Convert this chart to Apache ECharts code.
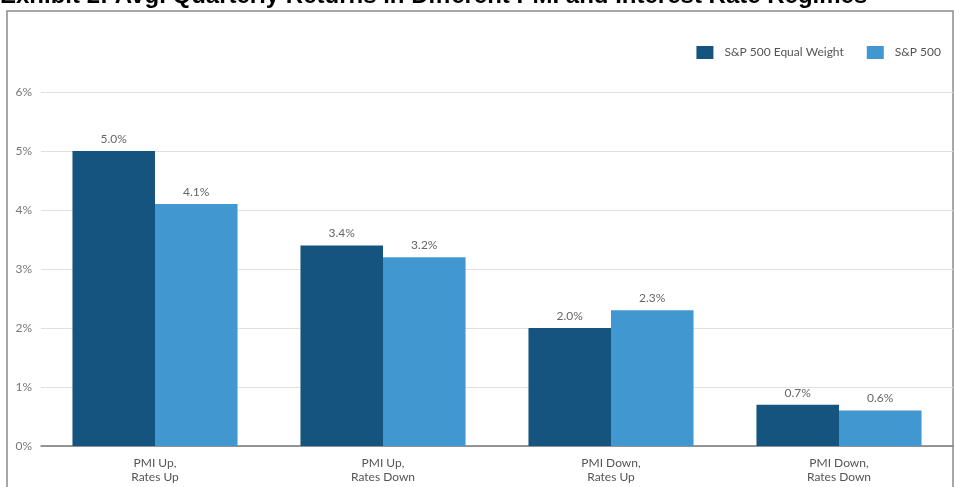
<!DOCTYPE html>
<html>
<head>
<meta charset="utf-8">
<script src="https://cdn.jsdelivr.net/npm/echarts@6/dist/echarts.min.js"></script>
<style>
html,body{margin:0;padding:0;background:#fff;}
#chart{width:954px;height:487px;}
</style>
</head>
<body>
<div id="chart"></div>
<script>
const titleText = 'Exhibit 2: Avg. Quarterly Returns in Different PMI and Interest Rate Regimes';
const categories = ['PMI Up,\nRates Up', 'PMI Up,\nRates Down', 'PMI Down,\nRates Up', 'PMI Down,\nRates Down'];
const seriesNames = ['S&P 500 Equal Weight', 'S&P 500'];
const equalWeight = [5.0, 3.4, 2.0, 0.7];
const sp500 = [4.1, 3.2, 2.3, 0.6];
const yTicks = [0, 1, 2, 3, 4, 5, 6];

const chart = echarts.init(document.getElementById('chart'));
const labelCfg = {
  show: true, position: 'top', color: '#666', fontSize: 12,
  fontFamily: 'Lato', distance: 6,
  formatter: p => p.value.toFixed(1) + '%'
};
chart.setOption({
  animation: false,
  backgroundColor: '#fff',
  textStyle: { fontFamily: 'Lato' },
  graphic: [
    { type: 'rect', shape: { x: 7, y: 11, width: 946, height: 490 },
      style: { fill: 'none', stroke: '#8a8a8a', lineWidth: 1.5 }, z: 0 },
    { type: 'text', left: 0, top: -16,
      style: { text: titleText, fill: '#000', font: 'bold 24px "Liberation Sans", Arial, sans-serif' } }
  ],
  legend: {
    right: 8, top: 41, itemWidth: 17, itemHeight: 13, itemGap: 23,
    icon: 'rect',
    textStyle: { color: '#555', fontSize: 12, fontFamily: 'Lato', padding: [0, 0, 0, 6] },
    data: seriesNames
  },
  grid: { left: 41, right: 1, top: 92, bottom: 41 },
  xAxis: {
    type: 'category', data: categories,
    axisLine: { lineStyle: { color: '#777', width: 1.5 } },
    axisTick: { show: false },
    axisLabel: { color: '#555', fontSize: 12, lineHeight: 14, margin: 10, fontFamily: 'Lato' }
  },
  yAxis: {
    type: 'value', min: yTicks[0], max: yTicks[yTicks.length - 1], interval: 1,
    axisLine: { show: false }, axisTick: { show: false },
    axisLabel: { color: '#777', fontSize: 12, margin: 9, formatter: '{value}%', fontFamily: 'Lato' },
    splitLine: { lineStyle: { color: '#e0e0e0', width: 1 } }
  },
  series: [
    { name: seriesNames[0], type: 'bar', data: equalWeight, barGap: '0%', barCategoryGap: '27.6%',
      itemStyle: { color: '#15547f' }, label: labelCfg },
    { name: seriesNames[1], type: 'bar', data: sp500, barGap: '0%', barCategoryGap: '27.6%',
      itemStyle: { color: '#4198d0' }, label: labelCfg }
  ]
});
</script>
</body>
</html>
